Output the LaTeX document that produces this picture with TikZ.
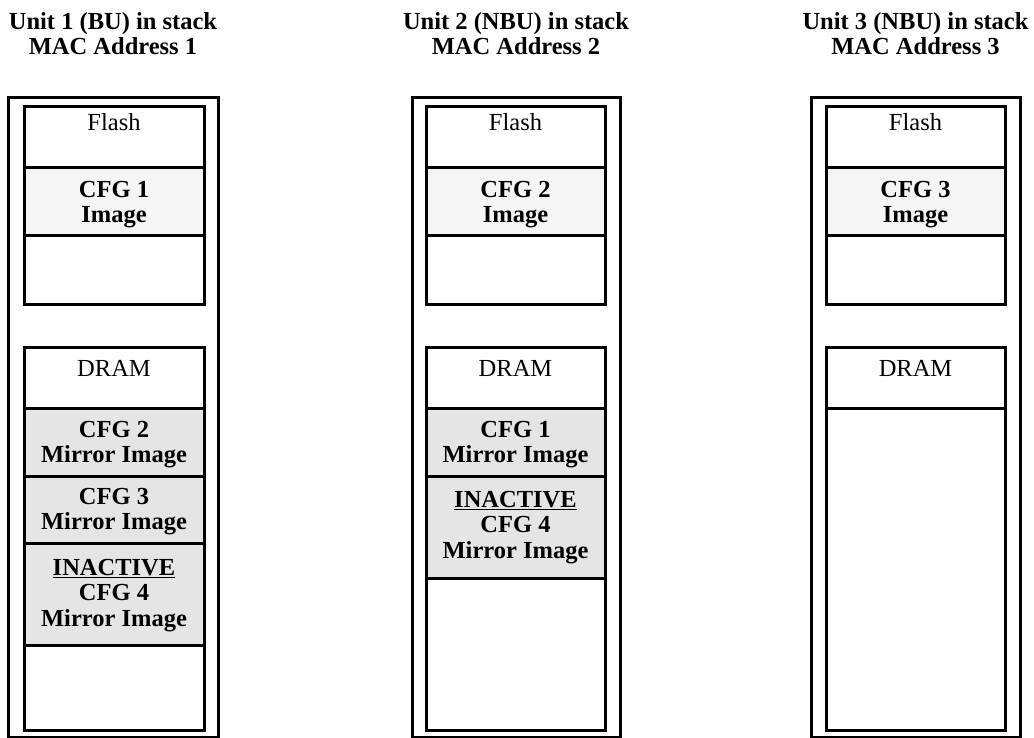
\documentclass[tikz,border=0pt]{standalone}
\usepackage{fontspec}
\setmainfont{Liberation Serif}
\usepackage{tikz}
\usetikzlibrary{positioning}
\definecolor{imgfill}{RGB}{245,245,245}
\definecolor{mirrorfill}{RGB}{229,229,229}
\tikzset{
  unitbox/.style={draw, line width=3pt},
  membox/.style={draw, line width=3pt},
  memtxt/.style={anchor=north, inner sep=0pt, align=center, font=\fontsize{24.5}{25.5}\selectfont},
  memtxtb/.style={memtxt, font=\fontsize{24.5}{25.5}\selectfont\bfseries},
  unittitle/.style={anchor=north, inner sep=0pt, align=center, font=\fontsize{24.5}{24}\selectfont\bfseries}
}

\begin{document}
\begin{tikzpicture}[x=1pt, y=-1pt]
  \useasboundingbox (0,0) rectangle (1034,738);

  \node[unittitle] (titleA) at (113,12.2) {\strut Unit 1 (BU) in stack\\MAC Address 1};
  \node[unittitle] (titleB) at (516,12.2) {\strut Unit 2 (NBU) in stack\\MAC Address 2};
  \node[unittitle] (titleC) at (915.5,12.2) {\strut Unit 3 (NBU) in stack\\MAC Address 3};

  \draw[unitbox] (8,98) rectangle (218,737.5);
  \draw[membox] (24,107) rectangle (204,304);
  \draw[membox, fill=imgfill] (24,168) rectangle (204,236);
  \draw[membox] (24,347) rectangle (204,730);
  \draw[membox, fill=mirrorfill] (24,408) rectangle (204,476);
  \draw[membox, fill=mirrorfill] (24,476) rectangle (204,543);
  \draw[membox, fill=mirrorfill] (24,543) rectangle (204,645);
  \node[memtxt] (flashA) at (114,112) {\strut Flash};
  \node[memtxtb] (imgA) at (114,179) {\strut CFG 1\\Image};
  \node[memtxt] (dramA) at (114,358) {\strut DRAM};
  \node[memtxtb] (mirAb) at (114,419) {\strut CFG 2\\Mirror Image};
  \node[memtxtb] (mirAc) at (114,486) {\strut CFG 3\\Mirror Image};
  \node[memtxtb] (mirAd) at (114,557) {\strut\underline{INACTIVE}\\CFG 4\\Mirror Image};

  \draw[unitbox] (412,98) rectangle (620,737.5);
  \draw[membox] (426,107) rectangle (605,304);
  \draw[membox, fill=imgfill] (426,168) rectangle (605,236);
  \draw[membox] (426,347) rectangle (605,730);
  \draw[membox, fill=mirrorfill] (426,408) rectangle (605,476);
  \draw[membox, fill=mirrorfill] (426,476) rectangle (605,578);
  \node[memtxt] (flashB) at (515.5,112) {\strut Flash};
  \node[memtxtb] (imgB) at (515.5,179) {\strut CFG 2\\Image};
  \node[memtxt] (dramB) at (515.5,358) {\strut DRAM};
  \node[memtxtb] (mirBa) at (515.5,419) {\strut CFG 1\\Mirror Image};
  \node[memtxtb] (mirBd) at (515.5,489) {\strut\underline{INACTIVE}\\CFG 4\\Mirror Image};

  \draw[unitbox] (811,98) rectangle (1020,737.5);
  \draw[membox] (826,107) rectangle (1005,304);
  \draw[membox, fill=imgfill] (826,168) rectangle (1005,236);
  \draw[membox] (826,347) rectangle (1005,730);
  \draw[membox] (826,408) -- (1005,408);
  \node[memtxt] (flashC) at (915.5,112) {\strut Flash};
  \node[memtxtb] (imgC) at (915.5,179) {\strut CFG 3\\Image};
  \node[memtxt] (dramC) at (915.5,358) {\strut DRAM};
\end{tikzpicture}
\end{document}
